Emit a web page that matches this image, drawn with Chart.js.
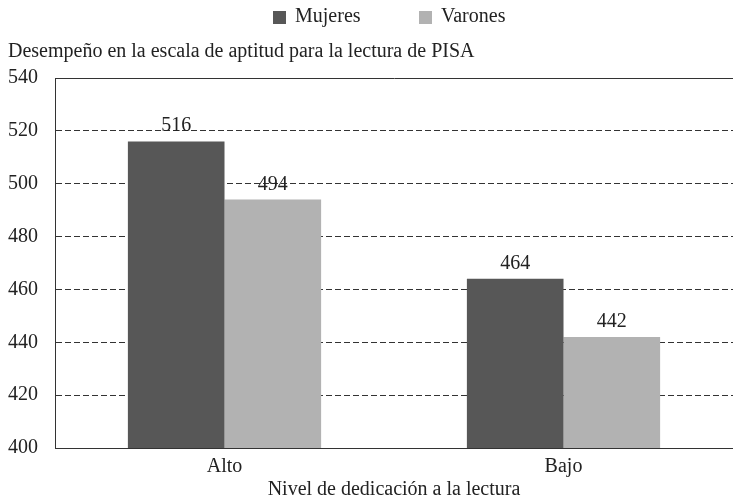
<!DOCTYPE html>
<html>
<head>
<meta charset="utf-8">
<script src="https://cdn.jsdelivr.net/npm/chart.js@4/dist/chart.umd.min.js"></script>
<style>
  html, body { margin: 0; padding: 0; background: #fff; }
  #wrap { width: 733px; height: 498px; }
</style>
</head>
<body>
<div id="wrap"><canvas id="chart"></canvas></div>
<script>
// chart data
const categories = ['Alto', 'Bajo'];
const mujeres = [516, 464];
const varones = [494, 442];
const yTicks = [400, 420, 440, 460, 480, 500, 520, 540];

const FONT = "'Liberation Serif', 'Times New Roman', serif";
const TEXT = '#222';

// value labels over each bar
const barLabels = {
  id: 'barLabels',
  afterDatasetsDraw(chart) {
    const ctx = chart.ctx;
    ctx.save();
    ctx.font = '20px ' + FONT;
    ctx.fillStyle = TEXT;
    ctx.textAlign = 'center';
    ctx.textBaseline = 'alphabetic';
    chart.data.datasets.forEach((ds, i) => {
      chart.getDatasetMeta(i).data.forEach((bar, j) => {
        ctx.fillText(ds.data[j], bar.x, bar.y - 10);
      });
    });
    ctx.restore();
  }
};

// legend drawn by hand: the original has wide gaps between entries
const topLegend = {
  id: 'topLegend',
  afterDraw(chart) {
    const ctx = chart.ctx;
    const starts = [273, 419];
    ctx.save();
    ctx.font = '20px ' + FONT;
    ctx.textBaseline = 'middle';
    ctx.textAlign = 'left';
    chart.data.datasets.forEach((ds, i) => {
      const x = starts[i];
      ctx.fillStyle = ds.backgroundColor;
      ctx.fillRect(x, 11, 13, 13);
      ctx.fillStyle = TEXT;
      ctx.fillText(ds.label, x + 22, 17);
    });
    ctx.restore();
  }
};

new Chart(document.getElementById('chart'), {
  type: 'bar',
  data: {
    labels: categories,
    datasets: [
      { label: 'Mujeres', data: mujeres, backgroundColor: '#575757' },
      { label: 'Varones', data: varones, backgroundColor: '#b2b2b2' }
    ]
  },
  options: {
    responsive: true,
    maintainAspectRatio: false,
    animation: false,
    layout: { padding: { left: 8, right: 0, top: 30, bottom: -2 } },
    datasets: { bar: { categoryPercentage: 0.57, barPercentage: 1 } },
    plugins: {
      legend: { display: false },
      title: {
        display: true,
        text: 'Desempeño en la escala de aptitud para la lectura de PISA',
        align: 'start',
        font: { family: FONT, size: 20, weight: 'normal', lineHeight: 1.2 },
        color: TEXT,
        padding: { top: 10, bottom: 14 }
      },
      tooltip: { enabled: false }
    },
    scales: {
      x: {
        grid: { display: false, drawTicks: false },
        border: { display: true, color: '#333', width: 1 },
        ticks: { font: { family: FONT, size: 20, lineHeight: 1.0 }, color: TEXT, padding: 9 },
        title: {
          display: true,
          text: 'Nivel de dedicación a la lectura',
          font: { family: FONT, size: 20, lineHeight: 1.0 },
          color: TEXT,
          padding: { top: -6, bottom: 0 }
        }
      },
      y: {
        min: 400,
        max: 540,
        afterBuildTicks(scale) {
          scale.ticks = yTicks.map(v => ({ value: v }));
        },
        afterFit(scale) {
          scale.width = 47;
        },
        grid: { color: '#333', lineWidth: 1, drawTicks: false },
        border: {
          display: true,
          color: '#333',
          width: 1,
          dash: ctx => (ctx.tick && ctx.tick.value === 540) ? [] : [6, 3]
        },
        ticks: { font: { family: FONT, size: 20 }, color: TEXT, padding: 17 }
      }
    }
  },
  plugins: [barLabels, topLegend]
});
</script>
</body>
</html>
